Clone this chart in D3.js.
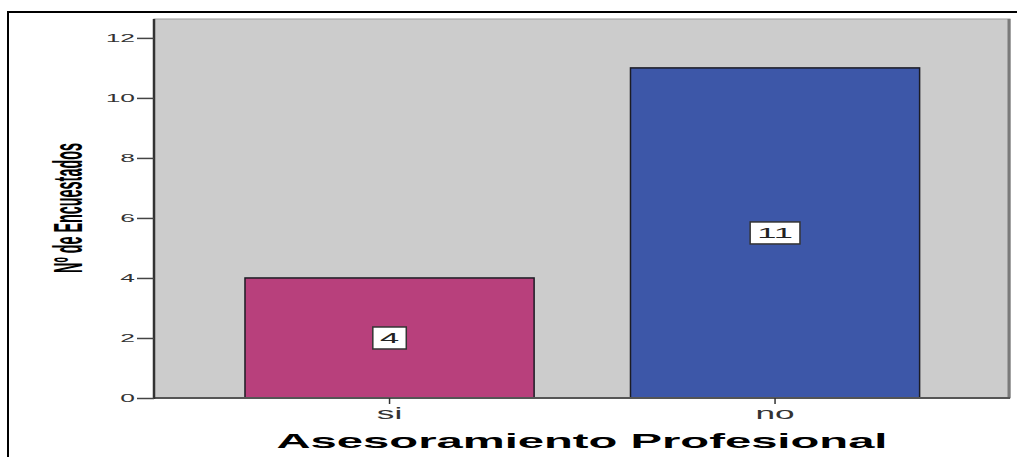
<!DOCTYPE html>
<html>
<head>
<meta charset="utf-8">
<script src="https://cdn.jsdelivr.net/npm/d3@7"></script>
<style>
  html, body { margin: 0; padding: 0; background: #ffffff; }
  svg { display: block; }
  text { font-family: "Liberation Sans", Arial, sans-serif; }
</style>
</head>
<body>
<svg id="chart" width="1017" height="457"></svg>
<script>
// ---- data ----
const categories = ["si", "no"];
const counts = [4, 11];
const barColors = ["#B8407C", "#3D57A8"];
const yTicks = [0, 2, 4, 6, 8, 10, 12];
const yTitle = "Nº de Encuestados";
const xTitle = "Asesoramiento Profesional";

// ---- layout ----
const W = 1017, H = 457;
const plot = { left: 154, top: 19, right: 1010, bottom: 398 };
const svg = d3.select("#chart");

// outer frame
svg.append("rect")
  .attr("x", 8).attr("y", 12).attr("width", 1015).attr("height", 455)
  .attr("fill", "#fff").attr("stroke", "#000").attr("stroke-width", 2);

const y = d3.scaleLinear().domain([0, 12.63]).range([plot.bottom, plot.top]);
const x = d3.scaleBand().domain(categories)
  .range([196.8, 967.8]).paddingInner(0.25).paddingOuter(0.125);

// plot background
svg.append("rect")
  .attr("x", plot.left).attr("y", plot.top)
  .attr("width", plot.right - plot.left).attr("height", plot.bottom - plot.top)
  .attr("fill", "#CCCCCC").attr("stroke", "#9a9a9a").attr("stroke-width", 1);
// right shadow edge
svg.append("line")
  .attr("x1", plot.right - 1).attr("x2", plot.right - 1)
  .attr("y1", plot.top).attr("y2", plot.bottom)
  .attr("stroke", "#7a7a7a").attr("stroke-width", 3);

// bars
const data = categories.map((c, i) => ({ c, v: counts[i], color: barColors[i] }));
svg.selectAll("rect.bar").data(data).enter().append("rect")
  .attr("class", "bar")
  .attr("x", d => x(d.c)).attr("y", d => y(d.v))
  .attr("width", x.bandwidth()).attr("height", d => y(0) - y(d.v))
  .attr("fill", d => d.color)
  .attr("stroke", "#1c1c24").attr("stroke-width", 1.5);

// axes lines
svg.append("line")
  .attr("x1", plot.left).attr("x2", plot.right)
  .attr("y1", plot.bottom).attr("y2", plot.bottom)
  .attr("stroke", "#555").attr("stroke-width", 2);
svg.append("line")
  .attr("x1", plot.left).attr("x2", plot.left)
  .attr("y1", plot.top).attr("y2", plot.bottom + 1)
  .attr("stroke", "#333").attr("stroke-width", 2.5);

// y axis ticks & labels
const yAxis = d3.axisLeft(y).tickValues(yTicks).tickSize(17).tickPadding(3).tickFormat(d3.format("d"));
const gy = svg.append("g").attr("transform", `translate(${plot.left},0)`).call(yAxis);
gy.select(".domain").remove();
gy.selectAll(".tick line").attr("stroke", "#444").attr("stroke-width", 1.5);
gy.selectAll(".tick text").remove();
yTicks.forEach(t => {
  svg.append("text")
    .attr("transform", `translate(${plot.left - 19},${y(t) + 4}) scale(2.4,1)`)
    .attr("text-anchor", "end")
    .attr("font-size", 11)
    .attr("fill", "#333")
    .text(t);
});

// x axis ticks & labels
const xAxis = d3.axisBottom(x).tickSize(6).tickPadding(3);
const gx = svg.append("g").attr("transform", `translate(0,${plot.bottom})`).call(xAxis);
gx.select(".domain").remove();
gx.selectAll(".tick line").attr("stroke", "#333").attr("stroke-width", 1.5);
gx.selectAll(".tick text").remove();
categories.forEach(c => {
  svg.append("text")
    .attr("transform", `translate(${x(c) + x.bandwidth() / 2},${plot.bottom + 21}) scale(2.2,1)`)
    .attr("text-anchor", "middle")
    .attr("font-size", 16)
    .attr("fill", "#333")
    .text(c);
});

// value labels with boxes
data.forEach(d => {
  const cx = x(d.c) + x.bandwidth() / 2;
  const cy = (y(d.v) + y(0)) / 2;
  const g = svg.append("g");
  const t = g.append("text")
    .attr("transform", `translate(${cx},${cy + 5.5}) scale(2.3,1)`)
    .attr("text-anchor", "middle")
    .attr("font-size", 15)
    .attr("fill", "#222")
    .text(d.v);
  const bw = t.node().getBBox().width * 2.3 + 14;
  g.insert("rect", "text")
    .attr("x", cx - bw / 2).attr("y", cy - 11)
    .attr("width", bw).attr("height", 22)
    .attr("fill", "#fff").attr("stroke", "#333").attr("stroke-width", 1.5);
});

// y title (condensed: scaled along its length)
const yt = svg.append("text")
  .attr("text-anchor", "middle")
  .attr("font-family", "'Liberation Sans Narrow', 'Liberation Sans', Arial, sans-serif")
  .attr("font-weight", "bold")
  .attr("font-size", 16)
  .attr("fill", "#000")
  .text(yTitle);
const ytLen = yt.node().getComputedTextLength();
yt.attr("transform", `translate(82,208) rotate(-90) scale(${130 / ytLen},2.5)`);

// x title
svg.append("text")
  .attr("x", 582).attr("y", 448)
  .attr("text-anchor", "middle")
  .attr("font-weight", "bold")
  .attr("font-size", 21)
  .attr("textLength", 611)
  .attr("lengthAdjust", "spacingAndGlyphs")
  .attr("fill", "#000")
  .text(xTitle);
</script>
</body>
</html>
